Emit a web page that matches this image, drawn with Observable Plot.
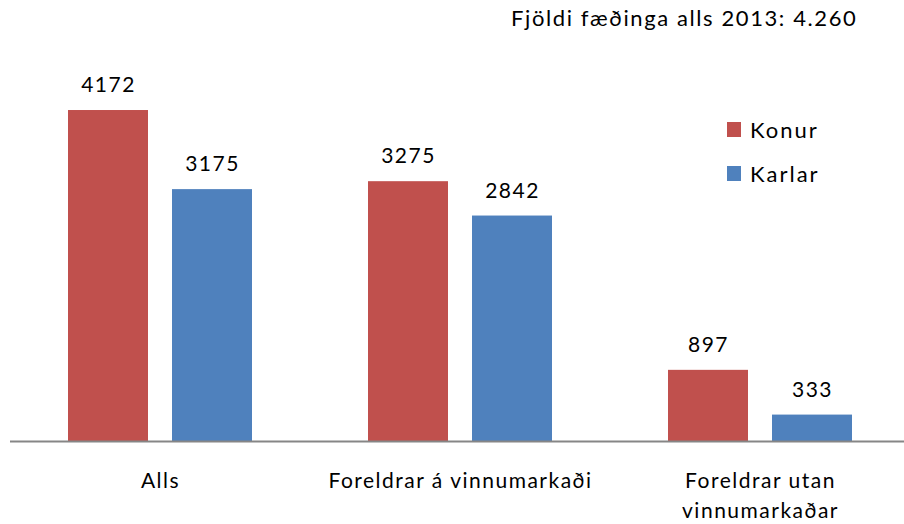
<!DOCTYPE html>
<html>
<head>
<meta charset="utf-8">
<script src="https://cdn.jsdelivr.net/npm/d3@7"></script>
<script src="https://cdn.jsdelivr.net/npm/@observablehq/plot@0.6"></script>
<style>
  html, body { margin: 0; padding: 0; background: #fff; }
  #wrap { position: relative; width: 904px; height: 524px; overflow: hidden; font-family: Lato, "Open Sans", sans-serif; color: #000; }
  #title { position: absolute; left: 511px; top: 4px; font-size: 22px; letter-spacing: 1.6px; white-space: nowrap; }
  #legend { position: absolute; left: 727px; top: 107px; font-size: 22px; letter-spacing: 2px; }
  .li { display: flex; align-items: center; height: 44px; }
  .sw { width: 14px; height: 15px; margin-right: 9px; }
  #chart { position: absolute; left: 0; top: 0; }
  #chart text { letter-spacing: 1.5px; }
</style>
</head>
<body>
<div id="wrap">
  <div id="chart"></div>
  <div id="title"></div>
  <div id="legend"></div>
</div>
<script>
const categories = ["Alls", "Foreldrar á vinnumarkaði", "Foreldrar utan\nvinnumarkaðar"];
const seriesNames = ["Konur", "Karlar"];
const konur = [4172, 3275, 897];
const karlar = [3175, 2842, 333];
const colors = ["#C0504D", "#4F81BD"];
const titleText = "Fjöldi fæðinga alls 2013: 4.260";

const data = [];
categories.forEach((c, i) => {
  data.push({cat: c, series: "Konur", value: konur[i]});
  data.push({cat: c, series: "Karlar", value: karlar[i]});
});

const chart = Plot.plot({
  width: 904,
  height: 524,
  marginTop: 84,
  marginBottom: 83,
  marginLeft: 10,
  marginRight: -6,
  style: {fontFamily: "Lato, 'Open Sans', sans-serif", background: "transparent"},
  fx: {domain: categories, padding: 0, label: null},
  x: {domain: seriesNames, paddingInner: 0.2308, paddingOuter: 0.5577, axis: null},
  y: {domain: [0, 4500], axis: null},
  color: {domain: seriesNames, range: colors},
  marks: [
    Plot.barY(data, {fx: "cat", x: "series", y: "value", fill: "series"}),
    Plot.text(data, {fx: "cat", x: "series", y: "value", text: d => String(d.value), dy: -25, fontSize: 21, fill: "#000"}),
    Plot.ruleY([0], {stroke: "#868686", strokeWidth: 2}),
    Plot.axisFx({anchor: "bottom", tickSize: 0, tickPadding: 26, fontSize: 21, lineHeight: 1.4, textAnchor: "middle", label: null, fill: "#000"})
  ]
});
document.getElementById("chart").appendChild(chart);
document.getElementById("title").textContent = titleText;
const lg = document.getElementById("legend");
seriesNames.forEach((s, i) => {
  const row = document.createElement("div");
  row.className = "li";
  const sw = document.createElement("span");
  sw.className = "sw";
  sw.style.background = colors[i];
  const t = document.createElement("span");
  t.textContent = s;
  row.appendChild(sw); row.appendChild(t);
  lg.appendChild(row);
});
</script>
</body>
</html>
